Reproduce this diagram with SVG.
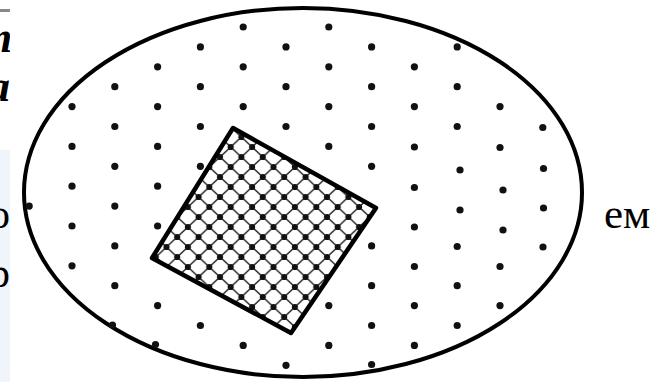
<svg xmlns="http://www.w3.org/2000/svg" width="665" height="382" viewBox="0 0 665 382">
<style>
  .dot { fill: #111; }
  .edge { fill: none; stroke: #000; stroke-width: 4; }
  .frag { font-family: "Liberation Serif", "Times New Roman", serif; fill: #000; }
</style>
<defs>
  <pattern id="mesh" patternUnits="userSpaceOnUse" x="220" y="177" width="21.4" height="20">
    <rect width="21.4" height="20" fill="#fff"/>
    <path d="M0,0 L21.4,20 M21.4,0 L0,20" stroke="#333" stroke-width="1.6"/>
    <circle cx="0" cy="0" r="3.1" fill="#111"/>
    <circle cx="21.4" cy="0" r="3.1" fill="#111"/>
    <circle cx="0" cy="20" r="3.1" fill="#111"/>
    <circle cx="21.4" cy="20" r="3.1" fill="#111"/>
    <circle cx="10.7" cy="10" r="3.1" fill="#111"/>
  </pattern>
  <clipPath id="leftcut"><rect x="0" y="0" width="10" height="382"/></clipPath>
</defs>
<rect width="665" height="382" fill="#fff"/>
<g id="left-strip">
  <rect x="0" y="150" width="10" height="232" fill="#eff5fa"/>
  <rect x="0" y="9" width="10" height="3" fill="#888"/>
  <g clip-path="url(#leftcut)">
    <text class="frag" x="-22" y="52" font-size="44" font-weight="bold" font-style="italic">т</text>
    <text class="frag" x="-12" y="101" font-size="44" font-weight="bold" font-style="italic">а</text>
    <text class="frag" x="-11" y="228" font-size="42">о</text>
    <text class="frag" x="-11" y="287" font-size="42">р</text>
  </g>
</g>
<g id="ellipse-region">
  <ellipse cx="303" cy="192.5" rx="279" ry="184.5" fill="#fff" class="edge"/>
  <g id="dots">
    <circle class="dot" cx="243.2" cy="27" r="3.6"/><circle class="dot" cx="328.8" cy="27" r="3.6"/>
    <circle class="dot" cx="200.4" cy="46.9" r="3.6"/><circle class="dot" cx="286" cy="46.9" r="3.6"/><circle class="dot" cx="371.6" cy="46.9" r="3.6"/><circle class="dot" cx="457.2" cy="46.9" r="3.6"/>
    <circle class="dot" cx="157.6" cy="66.8" r="3.6"/><circle class="dot" cx="243.2" cy="66.8" r="3.6"/><circle class="dot" cx="328.8" cy="66.8" r="3.6"/><circle class="dot" cx="414.4" cy="66.8" r="3.6"/>
    <circle class="dot" cx="114.8" cy="86.7" r="3.6"/><circle class="dot" cx="200.4" cy="86.7" r="3.6"/><circle class="dot" cx="286" cy="86.7" r="3.6"/><circle class="dot" cx="371.6" cy="86.7" r="3.6"/><circle class="dot" cx="457.2" cy="86.7" r="3.6"/>
    <circle class="dot" cx="72" cy="106.6" r="3.6"/><circle class="dot" cx="157.6" cy="106.6" r="3.6"/><circle class="dot" cx="243.2" cy="106.6" r="3.6"/><circle class="dot" cx="328.8" cy="106.6" r="3.6"/><circle class="dot" cx="414.4" cy="106.6" r="3.6"/><circle class="dot" cx="500" cy="106.6" r="3.6"/>
    <circle class="dot" cx="114.8" cy="126.5" r="3.6"/><circle class="dot" cx="200.4" cy="126.5" r="3.6"/><circle class="dot" cx="286" cy="126.5" r="3.6"/><circle class="dot" cx="371.6" cy="126.5" r="3.6"/><circle class="dot" cx="457.2" cy="126.5" r="3.6"/><circle class="dot" cx="542.8" cy="127.5" r="3.6"/>
    <circle class="dot" cx="72" cy="146.4" r="3.6"/><circle class="dot" cx="157.6" cy="146.4" r="3.6"/><circle class="dot" cx="328.8" cy="146.4" r="3.6"/><circle class="dot" cx="414.4" cy="147" r="3.6"/><circle class="dot" cx="500" cy="147.5" r="3.6"/>
    <circle class="dot" cx="114.8" cy="166.3" r="3.6"/><circle class="dot" cx="200.4" cy="166.3" r="3.6"/><circle class="dot" cx="371.6" cy="166.3" r="3.6"/><circle class="dot" cx="460" cy="170" r="3.6"/><circle class="dot" cx="543.5" cy="168.5" r="3.6"/>
    <circle class="dot" cx="72" cy="186.2" r="3.6"/><circle class="dot" cx="157.6" cy="186.2" r="3.6"/><circle class="dot" cx="414.4" cy="187.5" r="3.6"/><circle class="dot" cx="503" cy="190" r="3.6"/>
    <circle class="dot" cx="29.2" cy="206.1" r="3.6"/><circle class="dot" cx="114.8" cy="206.1" r="3.6"/><circle class="dot" cx="460" cy="210" r="3.6"/><circle class="dot" cx="543.5" cy="208" r="3.6"/>
    <circle class="dot" cx="72" cy="226" r="3.6"/><circle class="dot" cx="157.6" cy="226" r="3.6"/><circle class="dot" cx="414.4" cy="227" r="3.6"/><circle class="dot" cx="503" cy="230" r="3.6"/>
    <circle class="dot" cx="114.8" cy="245.9" r="3.6"/><circle class="dot" cx="371.6" cy="245.9" r="3.6"/><circle class="dot" cx="457.2" cy="246.5" r="3.6"/><circle class="dot" cx="543" cy="247" r="3.6"/>
    <circle class="dot" cx="72" cy="265.8" r="3.6"/><circle class="dot" cx="414.4" cy="266.5" r="3.6"/><circle class="dot" cx="500" cy="266.5" r="3.6"/>
    <circle class="dot" cx="114.8" cy="285.7" r="3.6"/><circle class="dot" cx="371.6" cy="285.7" r="3.6"/><circle class="dot" cx="457.2" cy="285.7" r="3.6"/>
    <circle class="dot" cx="157.6" cy="305.6" r="3.6"/><circle class="dot" cx="328.8" cy="305.6" r="3.6"/><circle class="dot" cx="414.4" cy="305.6" r="3.6"/><circle class="dot" cx="500" cy="305.6" r="3.6"/>
    <circle class="dot" cx="112.5" cy="325" r="3.6"/><circle class="dot" cx="200.4" cy="325.5" r="3.6"/><circle class="dot" cx="371.6" cy="325.5" r="3.6"/><circle class="dot" cx="457.2" cy="325.5" r="3.6"/>
    <circle class="dot" cx="155.5" cy="344.5" r="3.6"/><circle class="dot" cx="243.2" cy="345.4" r="3.6"/><circle class="dot" cx="328.8" cy="345.4" r="3.6"/><circle class="dot" cx="414.4" cy="345.4" r="3.6"/>
    <circle class="dot" cx="286" cy="365.3" r="3.6"/><circle class="dot" cx="371.6" cy="364.5" r="3.6"/>
  </g>
</g>
<g id="square">
  <polygon points="233,128 376,208 291,333 152,258" fill="url(#mesh)" stroke="#000" stroke-width="4.5" stroke-linejoin="round"/>
</g>
<g id="right-text">
  <text class="frag" x="604" y="228" font-size="43">ем</text>
</g>
</svg>
